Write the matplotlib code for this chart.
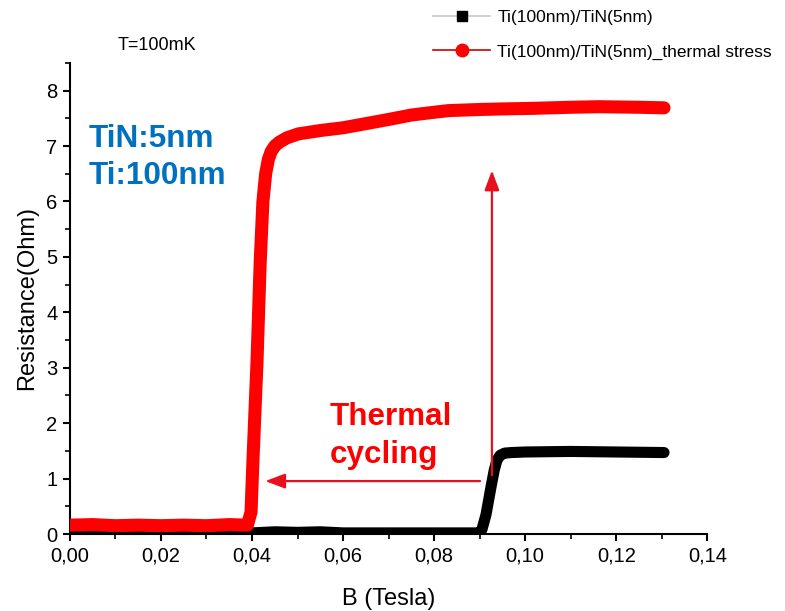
import matplotlib
matplotlib.use("Agg")
import matplotlib.pyplot as plt
from matplotlib.lines import Line2D
from matplotlib.ticker import MultipleLocator, FuncFormatter

plt.rcParams['font.family'] = ['Liberation Sans', 'DejaVu Sans']

# Magnetic field sweep (Tesla) and measured resistance (Ohm)
b_ref = [0.000, 0.010, 0.020, 0.030, 0.040, 0.045, 0.050, 0.055, 0.060, 0.070,
         0.080, 0.0900, 0.0905, 0.0914, 0.0925, 0.0932, 0.0938, 0.0945, 0.0955,
         0.097, 0.100, 0.110, 0.120, 0.1305]
r_ref = [0.02, 0.02, 0.02, 0.02, 0.02, 0.04, 0.03, 0.04, 0.02, 0.02,
         0.02, 0.02, 0.08, 0.35, 0.85, 1.15, 1.33, 1.42, 1.46,
         1.47, 1.48, 1.49, 1.48, 1.47]

b_stress = [0.000, 0.005, 0.010, 0.015, 0.020, 0.025, 0.030, 0.035, 0.0390,
            0.0398, 0.0402, 0.0411, 0.0418, 0.0424, 0.0430, 0.0436, 0.0442,
            0.0450, 0.0460, 0.0477, 0.0502, 0.055, 0.060, 0.0647, 0.070,
            0.075, 0.080, 0.0832, 0.090, 0.095, 0.1015, 0.110, 0.1162, 0.125,
            0.1305]
r_stress = [0.16, 0.17, 0.15, 0.16, 0.15, 0.16, 0.15, 0.17, 0.16,
            0.40, 1.30, 3.10, 4.90, 6.00, 6.50, 6.76, 6.90,
            7.00, 7.07, 7.15, 7.22, 7.28, 7.33, 7.40, 7.48,
            7.56, 7.61, 7.64, 7.66, 7.67, 7.68, 7.70, 7.71, 7.70,
            7.69]

label_ref = "Ti(100nm)/TiN(5nm)"
label_stress = "Ti(100nm)/TiN(5nm)_thermal stress"

x_ticks = [0.00, 0.02, 0.04, 0.06, 0.08, 0.10, 0.12, 0.14]
y_ticks = [0, 1, 2, 3, 4, 5, 6, 7, 8]

fig = plt.figure(figsize=(7.85, 6.11), dpi=100)
ax = fig.add_axes([0.089, 0.126, 0.812, 0.771])

ax.plot(b_ref, r_ref, color='black', lw=8, solid_capstyle='round',
        solid_joinstyle='round', zorder=2)
ax.plot(b_stress, r_stress, color='#ff0000', lw=9.4, solid_capstyle='round',
        solid_joinstyle='round', zorder=3)

ax.set_xlim(0, 0.14)
ax.set_ylim(0, 8.5)
ax.set_xticks(x_ticks)
ax.set_yticks(y_ticks)
ax.xaxis.set_minor_locator(MultipleLocator(0.01))
ax.yaxis.set_minor_locator(MultipleLocator(0.5))
ax.xaxis.set_major_formatter(FuncFormatter(lambda v, p: f"{v:.2f}".replace('.', ',')))
ax.yaxis.set_major_formatter(FuncFormatter(lambda v, p: f"{v:.0f}"))

for s in ('top', 'right'):
    ax.spines[s].set_visible(False)
for s in ('left', 'bottom'):
    ax.spines[s].set_linewidth(1.5)
ax.tick_params(which='major', direction='out', length=5, width=1.5,
               labelsize=14.5, pad=4)
ax.tick_params(which='minor', direction='out', length=3.5, width=1.2)

ax.set_xlabel("B (Tesla)", fontsize=17, labelpad=16)
ax.set_ylabel("Resistance(Ohm)", fontsize=17, labelpad=6)

# Annotations
fig.text(118 / 785, 1 - 45 / 611, "T=100mK", fontsize=13, va='center', ha='left')
ax.text(89 / 785, 1 - 147 / 611, "TiN:5nm", transform=fig.transFigure,
        fontsize=22.7, fontweight='bold', color='#0070c0', va='baseline')
ax.text(89 / 785, 1 - 184 / 611, "Ti:100nm", transform=fig.transFigure,
        fontsize=22.7, fontweight='bold', color='#0070c0', va='baseline')
ax.text(330 / 785, 1 - 425 / 611, "Thermal", transform=fig.transFigure,
        fontsize=22.6, fontweight='bold', color='#ff0000', va='baseline')
ax.text(330 / 785, 1 - 463 / 611, "cycling", transform=fig.transFigure,
        fontsize=22.6, fontweight='bold', color='#ff0000', va='baseline')

arrow_style = dict(arrowstyle='-|>,head_length=1.2,head_width=0.45',
                   color='#e8101e', lw=1.6, shrinkA=0, shrinkB=0)
ax.annotate("", xy=(0.0927, 6.56), xytext=(0.0927, 1.06), arrowprops=arrow_style)
ax.annotate("", xy=(0.0429, 0.955), xytext=(0.0901, 0.955), arrowprops=arrow_style)

handles = [
    Line2D([], [], color='#c8c8c8', lw=1.2, marker='s', ms=7,
           mfc='black', mec='black'),
    Line2D([], [], color='#d00000', lw=1.2, marker='o', ms=9,
           mfc='#ff0000', mec='#ff0000'),
]
fig.legend(handles, [label_ref, label_stress], loc='upper left',
           bbox_to_anchor=(433 / 785, 1 - 10 / 611), frameon=False,
           fontsize=12.5, handlelength=3.3, handletextpad=0.4,
           labelspacing=1.1, borderpad=0, borderaxespad=0)

fig.savefig("out.png", dpi=100)
